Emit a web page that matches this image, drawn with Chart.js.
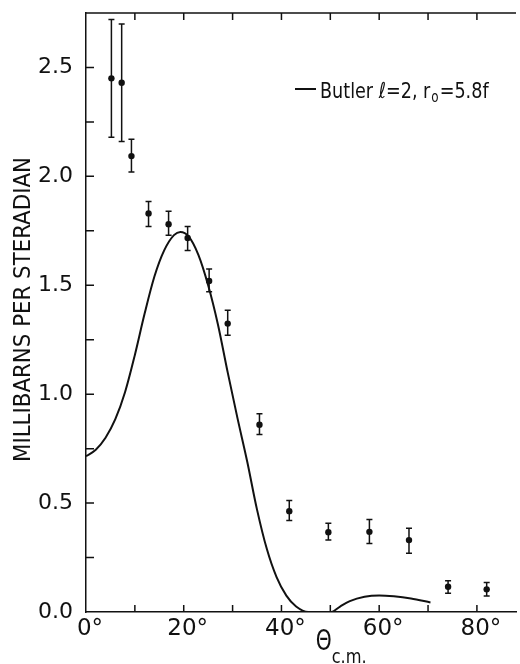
<!DOCTYPE html>
<html>
<head>
<meta charset="utf-8">
<script src="https://cdn.jsdelivr.net/npm/chart.js@4.4.1/dist/chart.umd.min.js"></script>
<style>
  html, body { margin: 0; padding: 0; background: #fff; }
  canvas { display: block; }
</style>
</head>
<body>
<canvas id="myChart" width="520" height="664"></canvas>
<script>
// measured points (theta c.m. in degrees, mb/sr)
var angles   = [5.2, 7.3, 9.3, 12.8, 16.9, 20.8, 25.2, 29.0, 35.5, 41.6, 49.6, 58.0, 66.1, 74.1, 82.0];
var sigma    = [2.45, 2.43, 2.093, 1.83, 1.78, 1.717, 1.52, 1.324, 0.86, 0.463, 0.366, 0.368, 0.33, 0.116, 0.104];
var errHigh  = [2.72, 2.70, 2.17, 1.885, 1.84, 1.77, 1.575, 1.385, 0.91, 0.512, 0.407, 0.425, 0.384, 0.144, 0.136];
var errLow   = [2.18, 2.16, 2.02, 1.77, 1.73, 1.66, 1.47, 1.27, 0.815, 0.42, 0.33, 0.315, 0.27, 0.086, 0.073];

// Butler curve l=2, r0=5.8f
var butlerAngles = [0, 2, 4, 6, 8, 10, 12, 14, 16, 18, 19.3, 21, 23, 25, 27, 29, 31, 33, 35, 37, 39, 41, 43, 45.5, 50.2, 52, 54, 57, 60, 63, 66.5, 70.5];
var butlerSigma  = [0.715, 0.745, 0.80, 0.885, 1.01, 1.18, 1.37, 1.54, 1.66, 1.73, 1.745, 1.725, 1.64, 1.50, 1.32, 1.10, 0.89, 0.69, 0.47, 0.29, 0.16, 0.075, 0.025, 0, 0, 0.025, 0.05, 0.07, 0.076, 0.072, 0.062, 0.044];

var xTickValues = [0, 20, 40, 60, 80];
var xTickLabels = ['0°', '20°', '40°', '60°', '80°'];
var yTickValues = [0, 0.5, 1.0, 1.5, 2.0, 2.5];
var yTickLabels = ['0.0', '0.5', '1.0', '1.5', '2.0', '2.5'];
var xMinorTicks = [10, 20, 30, 40, 50, 60, 70, 80];
var yMinorTicks = [0.25, 0.5, 0.75, 1.0, 1.25, 1.5, 1.75, 2.0, 2.25, 2.5];

var ink = '#111';

function squeeze(c, text, x, y, target, sx) {
    // draws text compressed horizontally, returns drawn width
    var w = c.measureText(text).width;
    var s = sx || (target / w);
    c.save();
    c.translate(x, y);
    c.scale(s, 1);
    c.fillText(text, 0, 0);
    c.restore();
    return w * s;
}

function noPad(s) {
    s.paddingTop = 0; s.paddingBottom = 0; s.paddingLeft = 0; s.paddingRight = 0;
}

var extras = {
    id: 'extras',
    afterDatasetsDraw: function(chart) {
        var c = chart.ctx, xs = chart.scales.x, ys = chart.scales.y, a = chart.chartArea;
        c.save();
        c.strokeStyle = ink;
        c.fillStyle = ink;

        // error bars
        c.lineWidth = 1.5;
        for (var i = 0; i < angles.length; i++) {
            var px = xs.getPixelForValue(angles[i]);
            var y1 = ys.getPixelForValue(errHigh[i]);
            var y2 = ys.getPixelForValue(errLow[i]);
            c.beginPath();
            c.moveTo(px, y1); c.lineTo(px, y2);
            c.moveTo(px - 3, y1); c.lineTo(px + 3, y1);
            c.moveTo(px - 3, y2); c.lineTo(px + 3, y2);
            c.stroke();
        }

        // top frame line
        c.lineWidth = 1.5;
        c.beginPath();
        c.moveTo(a.left, a.top); c.lineTo(a.right, a.top);
        c.stroke();

        // inward ticks
        c.beginPath();
        xMinorTicks.forEach(function(v) {
            var px = xs.getPixelForValue(v);
            c.moveTo(px, a.bottom); c.lineTo(px, a.bottom - 7);
            c.moveTo(px, a.top); c.lineTo(px, a.top + 7);
        });
        yMinorTicks.forEach(function(v) {
            var py = ys.getPixelForValue(v);
            c.moveTo(a.left, py); c.lineTo(a.left + 8, py);
        });
        c.stroke();

        // y axis title
        c.font = '23px "DejaVu Sans"';
        c.textBaseline = 'middle';
        c.textAlign = 'left';
        c.save();
        c.translate(24, (a.top + a.bottom) / 2 - 3);
        c.rotate(-Math.PI / 2);
        var tw = 305;
        squeeze(c, 'MILLIBARNS PER STERADIAN', -tw / 2, 0, tw);
        c.restore();

        // x axis title with subscript
        c.textBaseline = 'alphabetic';
        c.font = '28px "DejaVu Sans"';
        var tx = xs.getPixelForValue(47);
        var w1 = squeeze(c, 'Θ', tx, 650, 16);
        c.font = '19px "DejaVu Sans"';
        squeeze(c, 'c.m.', tx + w1, 663, 35);

        // legend
        var lx = a.left + 209, ly = a.top + 76;
        c.lineWidth = 2;
        c.beginPath();
        c.moveTo(lx, ly); c.lineTo(lx + 21, ly);
        c.stroke();
        c.font = '22px "DejaVu Sans"';
        var s = 0.8;
        var x = lx + 25, base = ly + 9;
        x += squeeze(c, 'Butler ℓ=2, r', x, base, 0, s);
        c.font = '15px "DejaVu Sans"';
        x += squeeze(c, 'o', x + 1, base + 4, 0, s) + 2;
        c.font = '22px "DejaVu Sans"';
        squeeze(c, '=5.8f', x, base, 0, s);

        c.restore();
    }
};

var curve = butlerAngles.map(function(v, i) { return { x: v, y: butlerSigma[i] }; });
var points = angles.map(function(v, i) { return { x: v, y: sigma[i] }; });

var ctx = document.getElementById('myChart').getContext('2d');
var myChart = new Chart(ctx, {
    type: 'scatter',
    data: {
        datasets: [
            {
                type: 'line',
                label: 'Butler l=2, r0=5.8f',
                data: curve,
                borderColor: ink,
                borderWidth: 2,
                pointRadius: 0,
                fill: false,
                cubicInterpolationMode: 'monotone'
            },
            {
                label: 'data',
                data: points,
                backgroundColor: ink,
                borderWidth: 0,
                pointRadius: 3.2
            }
        ]
    },
    options: {
        responsive: false,
        animation: false,
        layout: { padding: { top: 13, right: 0, left: 0, bottom: 0 } },
        plugins: {
            legend: { display: false },
            tooltip: { enabled: false }
        },
        scales: {
            x: {
                type: 'linear',
                min: 0,
                max: 88,
                afterFit: function(s) { s.height = 52; noPad(s); },
                afterBuildTicks: function(s) { s.ticks = xTickValues.map(function(v) { return { value: v }; }); },
                grid: { display: false, drawTicks: false },
                border: { display: true, color: ink, width: 1.5 },
                ticks: {
                    includeBounds: false,
                    autoSkip: false,
                    maxRotation: 0,
                    padding: 3,
                    labelOffset: 4,
                    color: ink,
                    font: { family: 'DejaVu Sans', size: 23 },
                    callback: function(v) { return xTickLabels[xTickValues.indexOf(v)]; }
                }
            },
            y: {
                min: 0,
                max: 2.75,
                afterFit: function(s) { s.width = 86; noPad(s); },
                afterBuildTicks: function(s) { s.ticks = yTickValues.map(function(v) { return { value: v }; }); },
                grid: { display: false, drawTicks: false },
                border: { display: true, color: ink, width: 1.5 },
                ticks: {
                    includeBounds: false,
                    autoSkip: false,
                    padding: 13,
                    color: ink,
                    font: { family: 'DejaVu Sans', size: 22 },
                    callback: function(v) { return yTickLabels[yTickValues.indexOf(v)]; }
                }
            }
        }
    },
    plugins: [extras]
});
</script>
</body>
</html>
